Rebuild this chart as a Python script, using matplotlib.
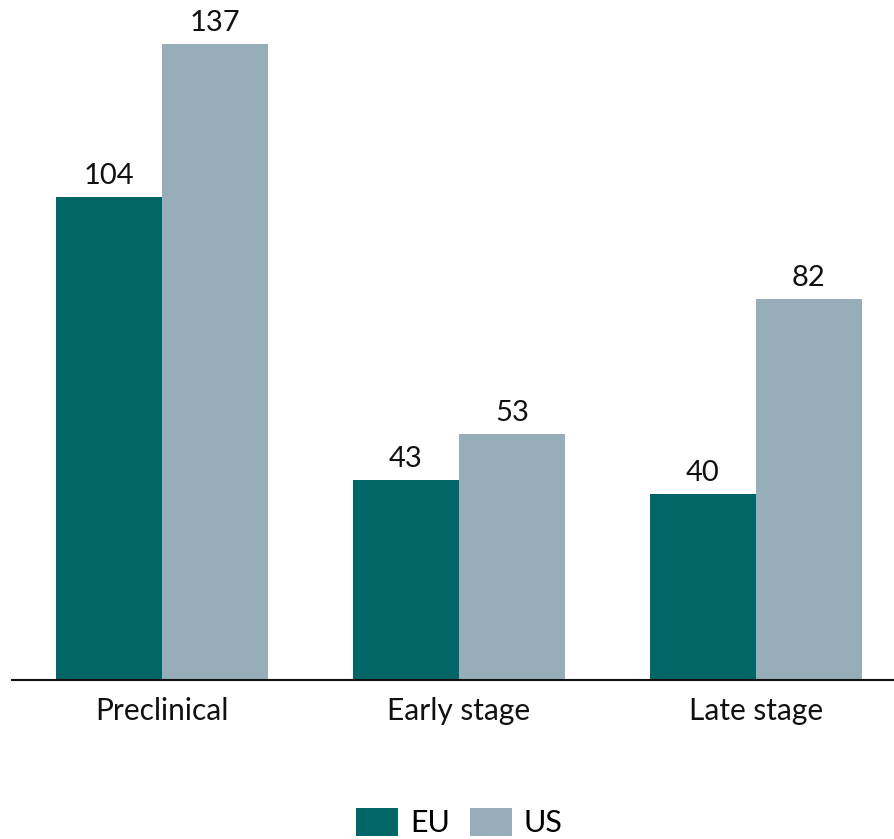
import matplotlib
matplotlib.use("Agg")
import matplotlib.pyplot as plt
import numpy as np

categories = ["Preclinical", "Early stage", "Late stage"]
eu_values = [104, 43, 40]
us_values = [137, 53, 82]
series_names = ["EU", "US"]

plt.rcParams['font.family'] = ['Lato', 'DejaVu Sans']

fig = plt.figure(figsize=(8.95, 8.39), dpi=100)
ax = fig.add_axes([12/895, 159/839, 883/895, 680/839])

x = np.arange(len(categories))
w = 106/297
c_eu = "#006666"
c_us = "#97adb9"
b1 = ax.bar(x - w/2, eu_values, w, color=c_eu, label=series_names[0])
b2 = ax.bar(x + w/2, us_values, w, color=c_us, label=series_names[1])

for bars, vals in ((b1, eu_values), (b2, us_values)):
    for b, v in zip(bars, vals):
        ax.annotate(str(v), (b.get_x() + b.get_width()/2, v), xytext=(0, 6),
                    textcoords="offset points", ha="center", va="bottom",
                    fontsize=21, color="#111111")

ax.set_xlim(-(150/297) , 2 + 139/297)
ax.set_ylim(0, 680/(636/137))
ax.set_xticks(x)
ax.set_xticklabels(categories, fontsize=21.5, color="#111111")
ax.tick_params(axis='x', length=0, pad=12)
ax.set_yticks([])
for s in ("left", "right", "top"):
    ax.spines[s].set_visible(False)
ax.spines["bottom"].set_linewidth(1.5)
ax.spines["bottom"].set_color("#111111")

fig.legend(loc="lower center", bbox_to_anchor=(0.513, 0.0), ncol=2, frameon=False,
           fontsize=22, handlelength=1.38, handleheight=1.05, handletextpad=0.38,
           columnspacing=0.65, borderaxespad=0.0, borderpad=0.05)

fig.savefig("out.png", dpi=100)
